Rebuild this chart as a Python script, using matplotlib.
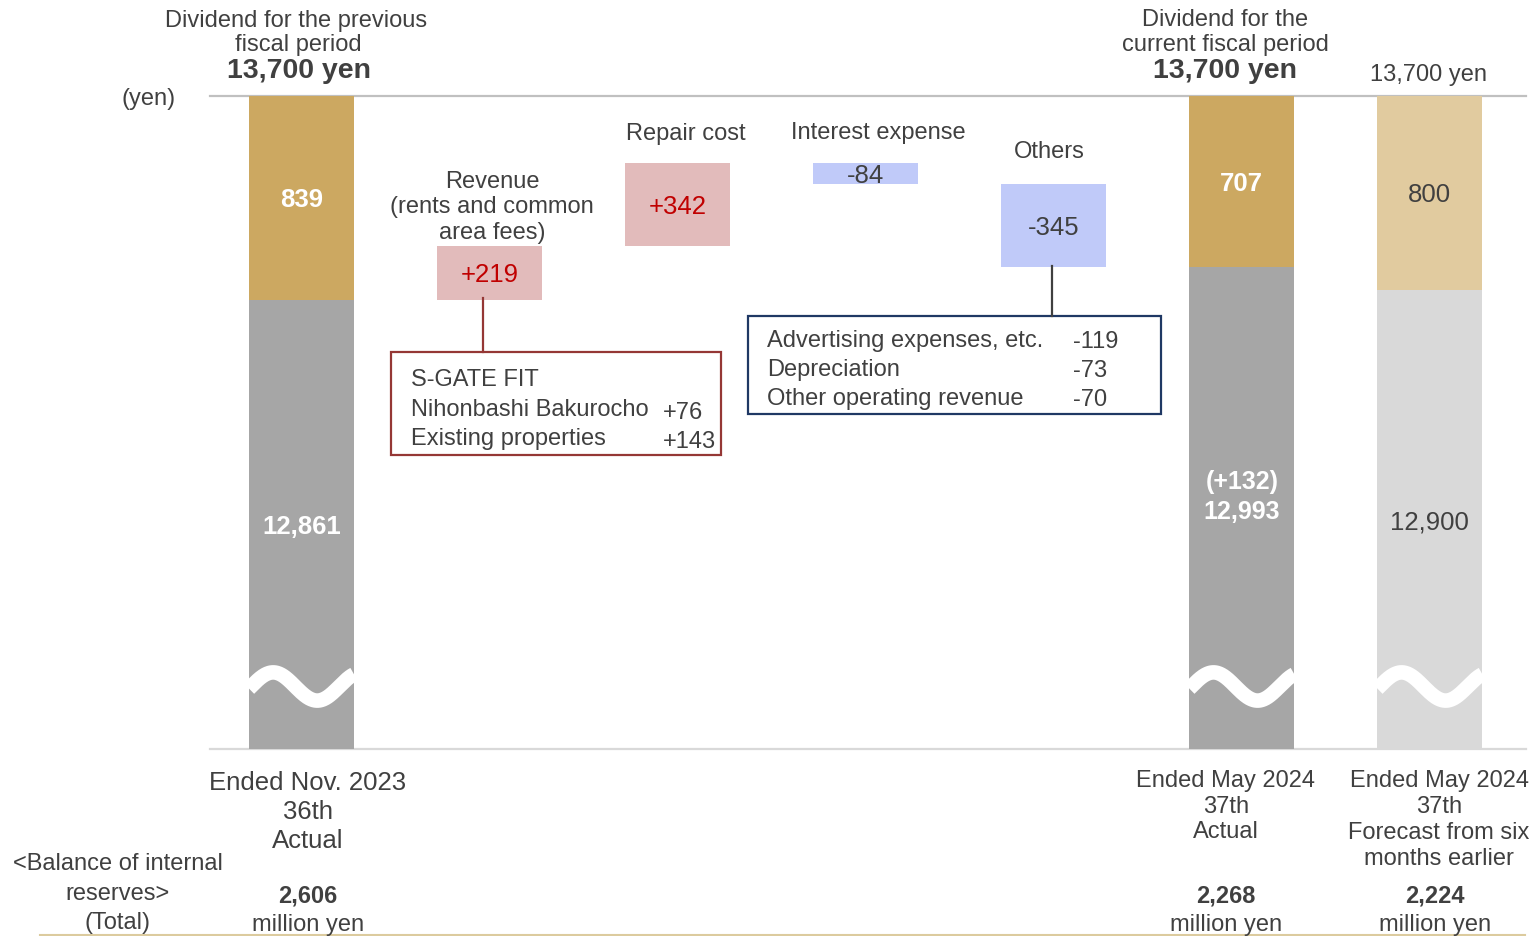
import numpy as np
import matplotlib
matplotlib.use("Agg")
import matplotlib.pyplot as plt
from matplotlib.patches import Rectangle
from matplotlib.transforms import offset_copy

plt.rcParams["font.family"] = ["Liberation Sans", "DejaVu Sans"]

# ============================================================
# Data
# ============================================================

dividend_total = 13700
prev_base = 12861
prev_top = 839
steps = [219, 342, -84, -345]
step_labels = ["+219", "+342", "-84", "-345"]
step_names = ["Revenue\n(rents and common\narea fees)", "Repair cost",
              "Interest expense", "Others"]
cur_base = 12993
cur_top = 707
fc_base = 12900
fc_top = 800

revenue_items = ["S-GATE FIT", "Nihonbashi Bakurocho", "Existing properties"]
revenue_values = ["", "+76", "+143"]
other_items = ["Advertising expenses, etc.", "Depreciation", "Other operating revenue"]
other_values = ["-119", "-73", "-70"]

reserves = ["2,606", "2,268", "2,224"]

# ============================================================
# Style
# ============================================================

W, H = 1537, 936
TXT = "#404040"
GOLD = "#CCA861"
GRAY = "#A6A6A6"
GOLD_LT = "#E1CB9F"
GRAY_LT = "#D9D9D9"
PINK = "#E2BBBB"
BLUE = "#C0CAF9"
RED = "#C00000"
BAR_W = 0.558
Y_LOW = 11013
DY = 2.5  # text nudge (px) so the visual centre lines up


def fx(px):
    return px / W


def fy(py):
    return 1 - py / H


def ft(py):
    return fy(py + DY)


fig = plt.figure(figsize=(W / 100, H / 100), dpi=100)
ax = fig.add_axes([fx(210), fy(749), fx(1526) - fx(210), fy(95.5) - fy(749)])
ax.set_xlim(-0.4865, 6.511)
ax.set_ylim(Y_LOW, dividend_total)
ax.axis("off")
tdata = offset_copy(ax.transData, fig=fig, y=-DY, units="dots")

# top and bottom rules
ax.axhline(dividend_total, color="#C0C0C0", lw=1.6, clip_on=False, zorder=1)
ax.axhline(Y_LOW, color="#D9D9D9", lw=1.6, clip_on=False, zorder=1)

# ============================================================
# Stacked bars (previous, current, forecast)
# ============================================================

stacks = [
    (0, prev_base, prev_top, GRAY, GOLD),
    (5, cur_base, cur_top, GRAY, GOLD),
    (6, fc_base, fc_top, GRAY_LT, GOLD_LT),
]
for x, base, top, c_low, c_top in stacks:
    ax.bar(x, base - Y_LOW, bottom=Y_LOW, width=BAR_W, color=c_low, zorder=2)
    ax.bar(x, top, bottom=base, width=BAR_W, color=c_top, zorder=2)

    # break mark (white wave)
    t = np.linspace(0, 1, 200)
    wx = x - BAR_W / 2 + t * BAR_W
    wy = 11270 + 58 * np.cos(2 * np.pi * (t - 0.23) / 0.84)
    ax.plot(wx, wy, color="white", lw=10.5, solid_capstyle="butt", zorder=3)

ax.text(0, prev_base + prev_top / 2, f"{prev_top:,}", color="white",
        fontsize=18.5, fontweight="bold", ha="center", va="center",
        transform=tdata, zorder=4)
ax.text(0, (prev_base + Y_LOW) / 2, f"{prev_base:,}", color="white",
        fontsize=18.5, fontweight="bold", ha="center", va="center",
        transform=tdata, zorder=4)
ax.text(5, cur_base + cur_top / 2, f"{cur_top:,}", color="white",
        fontsize=18.5, fontweight="bold", ha="center", va="center",
        transform=tdata, zorder=4)
ax.text(5, (cur_base + Y_LOW) / 2 + 55, f"(+{cur_base - prev_base})\n{cur_base:,}",
        color="white", fontsize=18, fontweight="bold", ha="center",
        va="center", linespacing=1.3, transform=tdata, zorder=4)
ax.text(6, fc_base + fc_top / 2, f"{fc_top:,}", color=TXT,
        fontsize=18.5, ha="center", va="center", transform=tdata, zorder=4)
ax.text(6, (fc_base + Y_LOW) / 2, f"{fc_base:,}", color=TXT,
        fontsize=18.5, ha="center", va="center", transform=tdata, zorder=4)

# ============================================================
# Floating waterfall steps
# ============================================================

level = prev_base
for i, delta in enumerate(steps):
    x = i + 1
    color = PINK if delta > 0 else BLUE
    ax.bar(x, delta, bottom=level, width=BAR_W, color=color, zorder=2)
    ax.text(x, level + delta / 2, step_labels[i], fontsize=18.5,
            color=RED if delta > 0 else TXT, ha="center", va="center",
            transform=tdata, zorder=4)
    level += delta

# step names above the boxes
name_pos = [(492, 205), (686, 132), (878, 131), (1049, 150)]
for name, (px, py) in zip(step_names, name_pos):
    fig.text(fx(px), ft(py), name, fontsize=17, color=TXT,
             ha="center", va="center", linespacing=1.22)

# ============================================================
# Callout boxes
# ============================================================

fig.add_artist(Rectangle((fx(391), fy(455)), fx(721) - fx(391), fy(352) - fy(455),
                         transform=fig.transFigure, fill=False,
                         edgecolor="#953735", lw=1.6))
fig.add_artist(plt.Line2D([fx(483), fx(483)], [fy(298), fy(352)],
                          transform=fig.transFigure, color="#953735", lw=1.6))
for j, (item, val) in enumerate(zip(revenue_items, revenue_values)):
    fig.text(fx(411), ft(378 + 29.5 * j), item, fontsize=17, color=TXT,
             ha="left", va="center")
    fig.text(fx(663), ft(381 + 29.5 * j), val, fontsize=17, color=TXT,
             ha="left", va="center")

fig.add_artist(Rectangle((fx(748), fy(414)), fx(1161) - fx(748), fy(316) - fy(414),
                         transform=fig.transFigure, fill=False,
                         edgecolor="#1F3864", lw=1.6))
fig.add_artist(plt.Line2D([fx(1052), fx(1052)], [fy(266), fy(316)],
                          transform=fig.transFigure, color="#404040", lw=1.6))
for j, (item, val) in enumerate(zip(other_items, other_values)):
    fig.text(fx(767), ft(339 + 29 * j), item, fontsize=17, color=TXT,
             ha="left", va="center")
    fig.text(fx(1073), ft(340 + 29 * j), val, fontsize=17, color=TXT,
             ha="left", va="center")

# ============================================================
# Header texts
# ============================================================

fig.text(fx(296), ft(18), "Dividend for the previous", fontsize=17, color=TXT,
         ha="center", va="center")
fig.text(fx(298), ft(43), "fiscal period", fontsize=17, color=TXT,
         ha="center", va="center")
fig.text(fx(299), ft(69), f"{dividend_total:,} yen", fontsize=20.5,
         fontweight="bold", color=TXT, ha="center", va="center")

fig.text(fx(1225), ft(18), "Dividend for the", fontsize=17, color=TXT,
         ha="center", va="center")
fig.text(fx(1225), ft(43), "current fiscal period", fontsize=17, color=TXT,
         ha="center", va="center")
fig.text(fx(1225), ft(69), f"{dividend_total:,} yen", fontsize=20.5,
         fontweight="bold", color=TXT, ha="center", va="center")

fig.text(fx(1429), ft(72), f"{dividend_total:,} yen", fontsize=17, color=TXT,
         ha="center", va="center")
fig.text(fx(149), ft(96), "(yen)", fontsize=17, color=TXT,
         ha="center", va="center")

# ============================================================
# Bottom labels
# ============================================================

for j, line in enumerate(["Ended Nov. 2023", "36th", "Actual"]):
    fig.text(fx(308), ft(781 + 28.5 * j), line, fontsize=18.5, color=TXT,
             ha="center", va="center")
for j, line in enumerate(["Ended May 2024", "37th", "Actual"]):
    fig.text(fx(1226), ft(779 + 25.5 * j), line, fontsize=17, color=TXT,
             ha="center", va="center")
for j, line in enumerate(["Ended May 2024", "37th", "Forecast from six",
                          "months earlier"]):
    fig.text(fx(1439), ft(779 + 25.7 * j), line, fontsize=17, color=TXT,
             ha="center", va="center")

for j, line in enumerate(["<Balance of internal", "reserves>", "(Total)"]):
    fig.text(fx(118), ft(862 + 29.5 * j), line, fontsize=17, color=TXT,
             ha="center", va="center")

for px, val in zip([308, 1226, 1435], reserves):
    fig.text(fx(px), ft(894), val, fontsize=17, fontweight="bold", color=TXT,
             ha="center", va="center")
    fig.text(fx(px), ft(922), "million yen", fontsize=17, color=TXT,
             ha="center", va="center")

fig.add_artist(plt.Line2D([fx(40), fx(1525)], [fy(935), fy(935)],
                          transform=fig.transFigure, color="#DCCB9E", lw=1.5))

fig.savefig("out.png", dpi=100)
